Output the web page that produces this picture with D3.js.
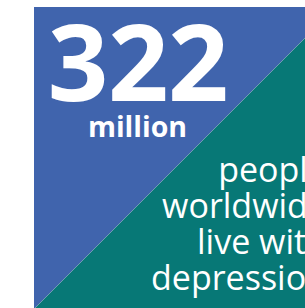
<!DOCTYPE html>
<html>
<head>
<meta charset="utf-8">
<script src="https://cdn.jsdelivr.net/npm/d3@7"></script>
<style>
  body { margin: 0; background: #fff; }
  svg { display: block; font-family: "Open Sans", sans-serif; }
</style>
</head>
<body>
<div id="chart"></div>
<script>
var svgWidth = 305;
var svgHeight = 308;

// figures shown on the card
var headline = ["322"];
var unit = ["million"];
var captionLines = ["people", "worldwide", "live with", "depression"];
var shares = [{ name: "blue", color: "#4064ad" }, { name: "teal", color: "#077876" }];

var svg = d3.select("#chart")
  .append("svg")
  .attr("width", svgWidth)
  .attr("height", svgHeight);

// square card, 0..1 in both directions
var x = d3.scaleLinear().domain([0, 1]).range([34, 336]);
var y = d3.scaleLinear().domain([0, 1]).range([7, 309]);

// upper-left triangle and lower-right triangle
var tri = [
  [[0, 0], [1, 0], [0, 1]],
  [[1, 0], [1, 1], [0, 1]]
];
var line = d3.line().x(d => x(d[0])).y(d => y(d[1]));

svg.selectAll("path.tri")
  .data(shares)
  .enter()
  .append("path")
  .attr("class", "tri")
  .attr("d", (d, i) => line(tri[i]) + "Z")
  .attr("fill", d => d.color);

// faint seam along the diagonal
svg.append("path")
  .attr("d", line([[1, 0], [0, 1]]))
  .attr("stroke", "#9fb0c8")
  .attr("stroke-opacity", 0.6)
  .attr("stroke-width", 0.6)
  .attr("fill", "none");

// big number
svg.selectAll("text.big")
  .data(headline)
  .enter()
  .append("text")
  .attr("class", "big")
  .attr("x", 138)
  .attr("y", 101)
  .attr("text-anchor", "middle")
  .attr("fill", "#fff")
  .attr("font-weight", 700)
  .attr("font-size", 106)
  .attr("letter-spacing", -0.5)
  .text(d => d);

svg.selectAll("text.unit")
  .data(unit)
  .enter()
  .append("text")
  .attr("class", "unit")
  .attr("x", 137.5)
  .attr("y", 137)
  .attr("text-anchor", "middle")
  .attr("fill", "#fff")
  .attr("font-weight", 700)
  .attr("font-size", 28.5)
  .text(d => d);

// caption lines, right aligned
var lineY = d3.scalePoint().domain(captionLines).range([182, 290]);

svg.selectAll("text.cap")
  .data(captionLines)
  .enter()
  .append("text")
  .attr("class", "cap")
  .attr("x", 327)
  .attr("y", d => lineY(d))
  .attr("text-anchor", "end")
  .attr("fill", "#fff")
  .attr("font-size", 34)
  .text(d => d);
</script>
</body>
</html>
